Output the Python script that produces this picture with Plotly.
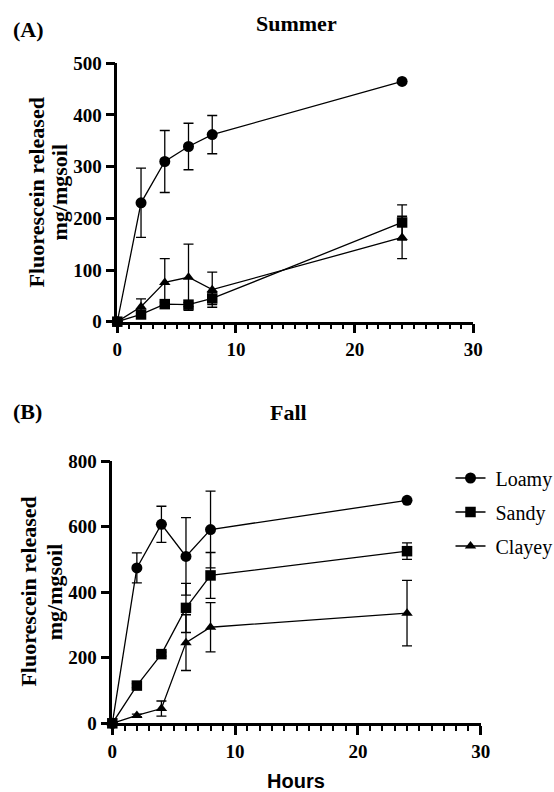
import plotly.graph_objects as go

# Sampling times (hours)
hours = [0, 2, 4, 6, 8, 24]
soils = ["Loamy", "Sandy", "Clayey"]

# Summer: fluorescein released (mean) and error (SD)
summer_loamy = [0, 230, 310, 339, 362, 465]
summer_loamy_err = [0, 67, 60, 45, 37, 0]
summer_sandy = [0, 14, 34, 33, 45, 192]
summer_sandy_err = [0, 5, 4, 4, 12, 34]
summer_clayey = [0, 29, 76, 86, 62, 163]
summer_clayey_err = [0, 15, 46, 64, 34, 41]

# Fall: fluorescein released (mean) and error (SD)
fall_loamy = [0, 474, 607, 509, 591, 680]
fall_loamy_err = [0, 46, 55, 118, 117, 0]
fall_sandy = [0, 115, 211, 352, 451, 525]
fall_sandy_err = [0, 6, 6, 75, 70, 25]
fall_clayey = [0, 24, 45, 246, 293, 336]
fall_clayey_err = [0, 4, 23, 85, 75, 100]

x_ticks = [0, 10, 20, 30]
summer_y_ticks = [0, 100, 200, 300, 400, 500]
fall_y_ticks = [0, 200, 400, 600, 800]

W, H = 554, 792
SERIF = "Liberation Serif, Tinos, Times New Roman, DejaVu Serif, serif"
SANS = "Liberation Sans, Arial, sans-serif"
symbols = {"Loamy": ("circle", 11), "Sandy": ("square", 10.5), "Clayey": ("triangle-up", 10)}

summer = {"Loamy": (summer_loamy, summer_loamy_err),
          "Sandy": (summer_sandy, summer_sandy_err),
          "Clayey": (summer_clayey, summer_clayey_err)}
fall = {"Loamy": (fall_loamy, fall_loamy_err),
        "Sandy": (fall_sandy, fall_sandy_err),
        "Clayey": (fall_clayey, fall_clayey_err)}

fig = go.Figure()


def add_series(data, xa, ya, show_legend):
    for soil in soils:
        vals, err = data[soil]
        sym, size = symbols[soil]
        fig.add_trace(go.Scatter(
            x=hours, y=vals, name="\u00a0" + soil, mode="lines+markers",
            xaxis=xa, yaxis=ya, legendgroup=soil, showlegend=show_legend,
            line=dict(color="black", width=1.3),
            marker=dict(symbol=sym, size=size, color="black"),
            error_y=dict(type="data", array=err, visible=True,
                         color="black", thickness=1.3, width=5),
            cliponaxis=False,
        ))


add_series(summer, "x", "y", False)
add_series(fall, "x2", "y2", True)

tick_font = dict(family=SERIF, size=19, color="black", weight="bold")


def x_axis(domain, anchor):
    return dict(
        domain=domain, anchor=anchor, range=[0, 30],
        tickmode="array", tickvals=x_ticks, ticktext=[str(t) for t in x_ticks],
        showline=True, linecolor="black", linewidth=2.5,
        ticks="outside", ticklen=9, tickwidth=2.5, tickcolor="black",
        minor=dict(dtick=1, tick0=0, ticks="outside", ticklen=5,
                   tickwidth=2, tickcolor="black", showgrid=False),
        showgrid=False, zeroline=False, tickfont=tick_font,
        layer="below traces", fixedrange=True,
    )


def y_axis(domain, anchor, top, ticks):
    return dict(
        domain=domain, anchor=anchor, range=[0, top],
        tickmode="array", tickvals=ticks, ticktext=[str(t) for t in ticks],
        showline=True, linecolor="black", linewidth=2.5,
        ticks="outside", ticklen=9, tickwidth=2.5, tickcolor="black",
        showgrid=False, zeroline=False, tickfont=tick_font,
        layer="below traces", fixedrange=True,
    )


def px_x(v):
    return v / W


def px_y(v):
    return 1 - v / H


fig.update_layout(
    width=W, height=H,
    font=dict(family=SERIF),
    margin=dict(l=0, r=0, t=0, b=0, autoexpand=False),
    paper_bgcolor="white", plot_bgcolor="white",
    xaxis=x_axis([px_x(117.3), px_x(473.3)], "y"),
    yaxis=y_axis([px_y(321.7), px_y(63.3)], "x", 500, summer_y_ticks),
    xaxis2=x_axis([px_x(112.3), px_x(480.7)], "y2"),
    yaxis2=y_axis([px_y(723.3), px_y(461)], "x2", 800, fall_y_ticks),
    legend=dict(
        x=px_x(450.5), y=px_y(458.5), xanchor="left", yanchor="top",
        font=dict(family=SERIF, size=20, color="black"),
        tracegroupgap=5, bgcolor="rgba(0,0,0,0)",
    ),
    showlegend=True,
)

serif_bold = dict(family=SERIF, size=22, color="black", weight="bold")
annotations = [
    dict(text="(A)", x=px_x(11), y=px_y(29.5), xanchor="left", yanchor="middle", font=serif_bold),
    dict(text="Summer", x=px_x(296), y=px_y(24), xanchor="center", yanchor="middle", font=serif_bold),
    dict(text="(B)", x=px_x(11), y=px_y(411), xanchor="left", yanchor="middle", font=serif_bold),
    dict(text="Fall", x=px_x(288), y=px_y(412), xanchor="center", yanchor="middle", font=serif_bold),
    dict(text="Hours", x=px_x(295.5), y=px_y(781), xanchor="center", yanchor="middle",
         font=dict(family=SANS, size=20, color="black", weight="bold")),
    dict(text="Fluorescein released", x=px_x(36), y=px_y(192.5), textangle=-90,
         xanchor="center", yanchor="middle", font=serif_bold),
    dict(text="mg/mgsoil", x=px_x(59), y=px_y(192.5), textangle=-90,
         xanchor="center", yanchor="middle", font=serif_bold),
    dict(text="Fluorescein released", x=px_x(27.6), y=px_y(592), textangle=-90,
         xanchor="center", yanchor="middle", font=serif_bold),
    dict(text="mg/mgsoil", x=px_x(54.3), y=px_y(592), textangle=-90,
         xanchor="center", yanchor="middle", font=serif_bold),
]
for a in annotations:
    a.update(xref="paper", yref="paper", showarrow=False)
fig.update_layout(annotations=annotations)

fig.write_html("out.html")
